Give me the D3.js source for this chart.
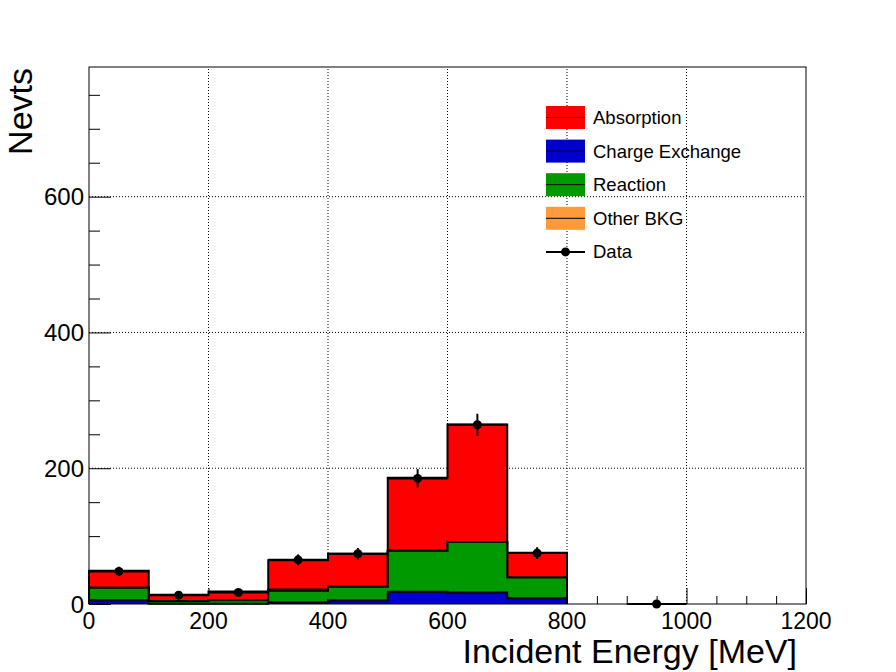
<!DOCTYPE html>
<html>
<head>
<meta charset="utf-8">
<script src="https://cdn.jsdelivr.net/npm/d3@7"></script>
<style>
  html, body { margin: 0; padding: 0; background: #fff; }
  svg { display: block; font-family: "Liberation Sans", Arial, Helvetica, sans-serif; }
</style>
</head>
<body>
<svg id="chart" width="896" height="672"></svg>
<script>
// ---- data ----
const binEdges = [0, 100, 200, 300, 400, 500, 600, 700, 800, 900, 1000];
const chargeExchange = [5.5, 0.5, 0.5, 2.5, 5, 18, 17, 8.5, 0, 0];
const reaction       = [18.5, 3.5, 5, 17, 20.5, 60.5, 74.5, 30.5, 0, 0];
const otherBkg       = [0, 0, 0, 2, 0, 0, 0, 0, 0, 0];
const absorption     = [25, 9.5, 13, 43, 48.5, 107.5, 173, 36.5, 0, 0];
const dataCounts     = [48, 13, 17, 65, 74, 185, 264, 75, null, 0];
const xTicks = [0, 200, 400, 600, 800, 1000, 1200];
const yTicks = [0, 200, 400, 600];
const legendLabels = ["Absorption", "Charge Exchange", "Reaction", "Other BKG", "Data"];

// ---- layout ----
const frame = { left: 89, right: 806, top: 67, bottom: 604 };
const x = d3.scaleLinear().domain([0, 1200]).range([frame.left, frame.right]);
const y = d3.scaleLinear().domain([0, 791]).range([frame.bottom, frame.top]);
const svg = d3.select("#chart");

const colors = { abs: "#ff0000", cex: "#0000cc", rea: "#009900", oth: "#ff9a3a" };

// grid
const gGrid = svg.append("g");
xTicks.filter(t => t > 0 && t < 1200).forEach(t => {
  gGrid.append("line").attr("x1", x(t)).attr("x2", x(t)).attr("y1", frame.bottom).attr("y2", frame.top)
    .attr("stroke", "#000").attr("stroke-width", 1).attr("stroke-dasharray", "1,2");
});
yTicks.filter(t => t > 0).forEach(t => {
  gGrid.append("line").attr("x1", frame.left).attr("x2", frame.right).attr("y1", y(t)).attr("y2", y(t))
    .attr("stroke", "#000").attr("stroke-width", 1).attr("stroke-dasharray", "1,2");
});

// axes ticks (inside frame)
const xAxis = d3.axisTop(x).tickValues(d3.range(0, 1201, 50)).tickFormat("")
  .tickSize(0).tickSizeOuter(0);
const gx = svg.append("g").attr("transform", `translate(0,${frame.bottom})`).call(xAxis);
gx.selectAll(".tick line").attr("y2", d => (d % 200 === 0 ? -16 : -8)).attr("stroke", "#000");
gx.select(".domain").remove();

const yAxis = d3.axisRight(y).tickValues(d3.range(0, 791, 50)).tickFormat("").tickSize(0).tickSizeOuter(0);
const gy = svg.append("g").attr("transform", `translate(${frame.left},0)`).call(yAxis);
gy.selectAll(".tick line").attr("x2", d => (d % 200 === 0 ? 22 : 11)).attr("stroke", "#000");
gy.select(".domain").remove();

// stacked histograms (bottom-up: CEX, Reaction, Other, Absorption)
const layers = [
  { vals: chargeExchange, color: colors.cex },
  { vals: reaction, color: colors.rea },
  { vals: otherBkg, color: colors.oth },
  { vals: absorption, color: colors.abs }
];
let cum = binEdges.slice(0, -1).map(() => 0);
const cumLayers = layers.map(l => {
  cum = cum.map((c, i) => c + l.vals[i]);
  return { cum: cum.slice(), color: l.color };
});
// trim trailing empty bins
const totals = cumLayers[cumLayers.length - 1].cum;
let nb = totals.length;
while (nb > 0 && totals[nb - 1] === 0) nb--;

function stepPath(vals) {
  const p = d3.path();
  p.moveTo(x(binEdges[0]), y(0));
  for (let i = 0; i < nb; i++) {
    p.lineTo(x(binEdges[i]), y(vals[i]));
    p.lineTo(x(binEdges[i + 1]), y(vals[i]));
  }
  p.lineTo(x(binEdges[nb]), y(0));
  return p.toString();
}
const gHist = svg.append("g");
cumLayers.slice().reverse().forEach(l => {
  gHist.append("path").attr("d", stepPath(l.cum) + "Z").attr("fill", l.color).attr("stroke", "none");
  gHist.append("path").attr("d", stepPath(l.cum)).attr("fill", "none").attr("stroke", "#000")
    .attr("stroke-width", 2).attr("stroke-linejoin", "miter");
});

// frame
svg.append("rect").attr("x", frame.left).attr("y", frame.top)
  .attr("width", frame.right - frame.left).attr("height", frame.bottom - frame.top)
  .attr("fill", "none").attr("stroke", "#000").attr("stroke-width", 1);

// data points
const gData = svg.append("g");
dataCounts.forEach((v, i) => {
  if (v === null) return;
  const cx = (binEdges[i] + binEdges[i + 1]) / 2;
  const err = Math.sqrt(v);
  gData.append("line").attr("x1", x(binEdges[i])).attr("x2", x(binEdges[i + 1]))
    .attr("y1", y(v)).attr("y2", y(v)).attr("stroke", "#000").attr("stroke-width", 2);
  if (err > 0) {
    gData.append("line").attr("x1", x(cx)).attr("x2", x(cx))
      .attr("y1", y(v - err)).attr("y2", y(v + err)).attr("stroke", "#000").attr("stroke-width", 2);
  }
  gData.append("circle").attr("cx", x(cx)).attr("cy", y(v)).attr("r", 4.5).attr("fill", "#000");
});

// tick labels
xTicks.forEach(t => {
  svg.append("text").attr("x", x(t)).attr("y", 629).attr("text-anchor", "middle")
    .attr("font-size", 23).text(t);
});
yTicks.forEach(t => {
  svg.append("text").attr("x", 84).attr("y", y(t) + 8.5).attr("text-anchor", "end")
    .attr("font-size", 24).text(t);
});

// axis titles
svg.append("text").attr("x", 797).attr("y", 663).attr("text-anchor", "end")
  .attr("font-size", 34).text("Incident Energy [MeV]");
svg.append("text").attr("transform", "translate(32,68) rotate(-90)").attr("text-anchor", "end")
  .attr("font-size", 34).text("Nevts");

// legend
const legColors = [colors.abs, colors.cex, colors.rea, colors.oth, null];
const gLeg = svg.append("g");
legendLabels.forEach((lab, i) => {
  const cy = 117.5 + i * 33.6;
  if (legColors[i]) {
    gLeg.append("rect").attr("x", 546).attr("y", cy - 11.5).attr("width", 39).attr("height", 23)
      .attr("fill", legColors[i]);
    gLeg.append("line").attr("x1", 546).attr("x2", 585).attr("y1", cy).attr("y2", cy)
      .attr("stroke", "#000").attr("stroke-width", 1);
  } else {
    gLeg.append("line").attr("x1", 546).attr("x2", 585).attr("y1", cy).attr("y2", cy)
      .attr("stroke", "#000").attr("stroke-width", 2);
    gLeg.append("circle").attr("cx", 565.5).attr("cy", cy).attr("r", 4.5).attr("fill", "#000");
  }
  gLeg.append("text").attr("x", 593).attr("y", cy + 6.5).attr("font-size", 18.5).text(lab);
});
</script>
</body>
</html>
